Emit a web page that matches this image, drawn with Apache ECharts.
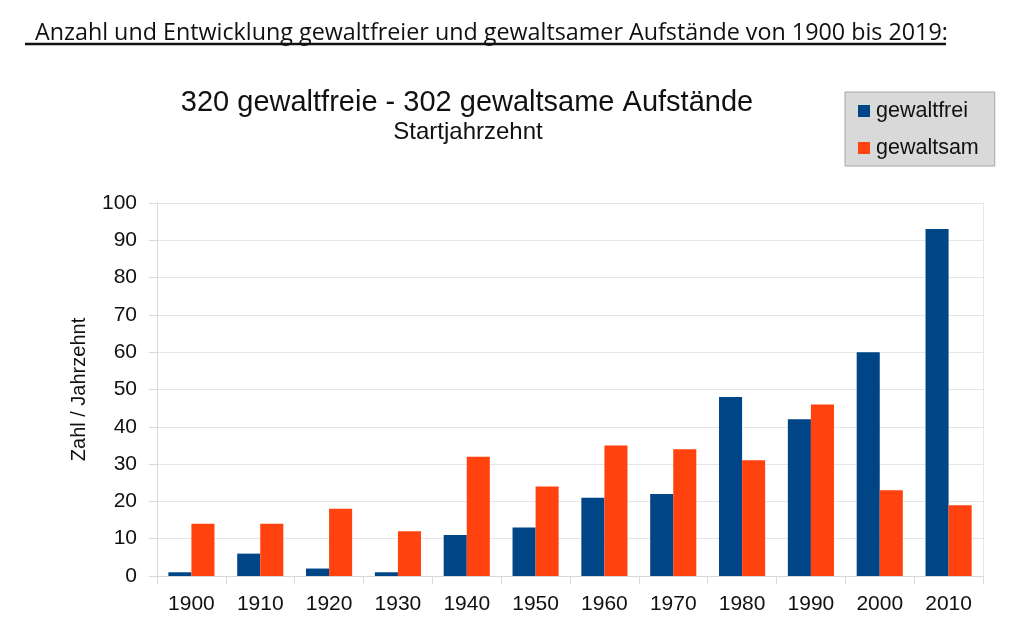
<!DOCTYPE html>
<html>
<head>
<meta charset="utf-8">
<script src="https://cdn.jsdelivr.net/npm/echarts@6/dist/echarts.min.js"></script>
<style>html,body{margin:0;padding:0;background:#fff}#c{width:1024px;height:631px}</style>
</head>
<body>
<div id="c"></div>
<script>
const categories = ['1900','1910','1920','1930','1940','1950','1960','1970','1980','1990','2000','2010'];
const gewaltfrei = [1, 6, 2, 1, 11, 13, 21, 22, 48, 42, 60, 93];
const gewaltsam = [14, 14, 18, 12, 32, 24, 35, 34, 31, 46, 23, 19];
const seriesNames = ['gewaltfrei', 'gewaltsam'];
const heading = 'Anzahl und Entwicklung gewaltfreier und gewaltsamer Aufstände von 1900 bis 2019:';
const mainTitle = '320 gewaltfreie - 302 gewaltsame Aufstände';
const subTitle = 'Startjahrzehnt';
const yName = 'Zahl / Jahrzehnt';

const chart = echarts.init(document.getElementById('c'), null, {renderer: 'canvas'});
const F = '"Liberation Sans", Arial, sans-serif';
chart.setOption({
  animation: false,
  backgroundColor: '#fff',
  title: [
    {text: heading, left: 30, top: 17, textStyle: {fontFamily: '"Open Sans", sans-serif', fontSize: 23.3, fontWeight: 'normal', color: '#111'}},
    {text: mainTitle, left: 462, top: 83, textAlign: 'center', textStyle: {fontFamily: F, fontSize: 29, fontWeight: 'normal', color: '#111'}},
    {text: subTitle, left: 463, top: 115, textAlign: 'center', textStyle: {fontFamily: F, fontSize: 24, fontWeight: 'normal', color: '#111'}}
  ],
  graphic: [
    {type: 'line', shape: {x1: 25, y1: 44, x2: 946, y2: 44}, style: {stroke: '#111', lineWidth: 2.5}}
  ],
  legend: {
    data: seriesNames,
    orient: 'vertical',
    left: 845, top: 92,
    backgroundColor: '#d9d9d9',
    borderColor: '#a6a6a6', borderWidth: 1,
    padding: [8, 16, 7, 13],
    itemWidth: 12, itemHeight: 12, itemGap: 15,
    icon: 'rect',
    textStyle: {fontFamily: F, fontSize: 21.5, color: '#111', lineHeight: 21, padding: [0,0,0,1]}
  },
  grid: {left: 157, right: 41, top: 203, bottom: 55, containLabel: false},
  xAxis: {
    type: 'category', data: categories,
    axisLine: {show: true, lineStyle: {color: '#d9d9d9', width: 1}},
    axisTick: {show: true, length: 8, interval: 0, lineStyle: {color: '#d9d9d9'}},
    axisLabel: {fontFamily: F, fontSize: 21, color: '#111', margin: 18, interval: 0}
  },
  yAxis: [{
    type: 'value', min: 0, max: 100, interval: 10,
    name: yName, nameLocation: 'middle', nameGap: 68, nameRotate: 90,
    nameTextStyle: {fontFamily: F, fontSize: 20, color: '#111'},
    axisLine: {show: true, lineStyle: {color: '#d9d9d9'}},
    axisTick: {show: true, length: 8, lineStyle: {color: '#d9d9d9'}},
    axisLabel: {fontFamily: F, fontSize: 21, color: '#111', margin: 20},
    splitLine: {show: true, lineStyle: {color: '#e6e6e6', width: 1}}
  }, {
    type: 'value', min: 0, max: 100, interval: 10, position: 'right',
    axisLine: {show: true, lineStyle: {color: '#e6e6e6'}},
    axisTick: {show: false}, axisLabel: {show: false}, splitLine: {show: false}
  }],
  series: [
    {name: seriesNames[0], type: 'bar', data: gewaltfrei, itemStyle: {color: '#004586'}, barGap: '0%', barCategoryGap: '33%'},
    {name: seriesNames[1], type: 'bar', data: gewaltsam, itemStyle: {color: '#ff420e'}, barGap: '0%', barCategoryGap: '33%'}
  ]
});
</script>
</body>
</html>
